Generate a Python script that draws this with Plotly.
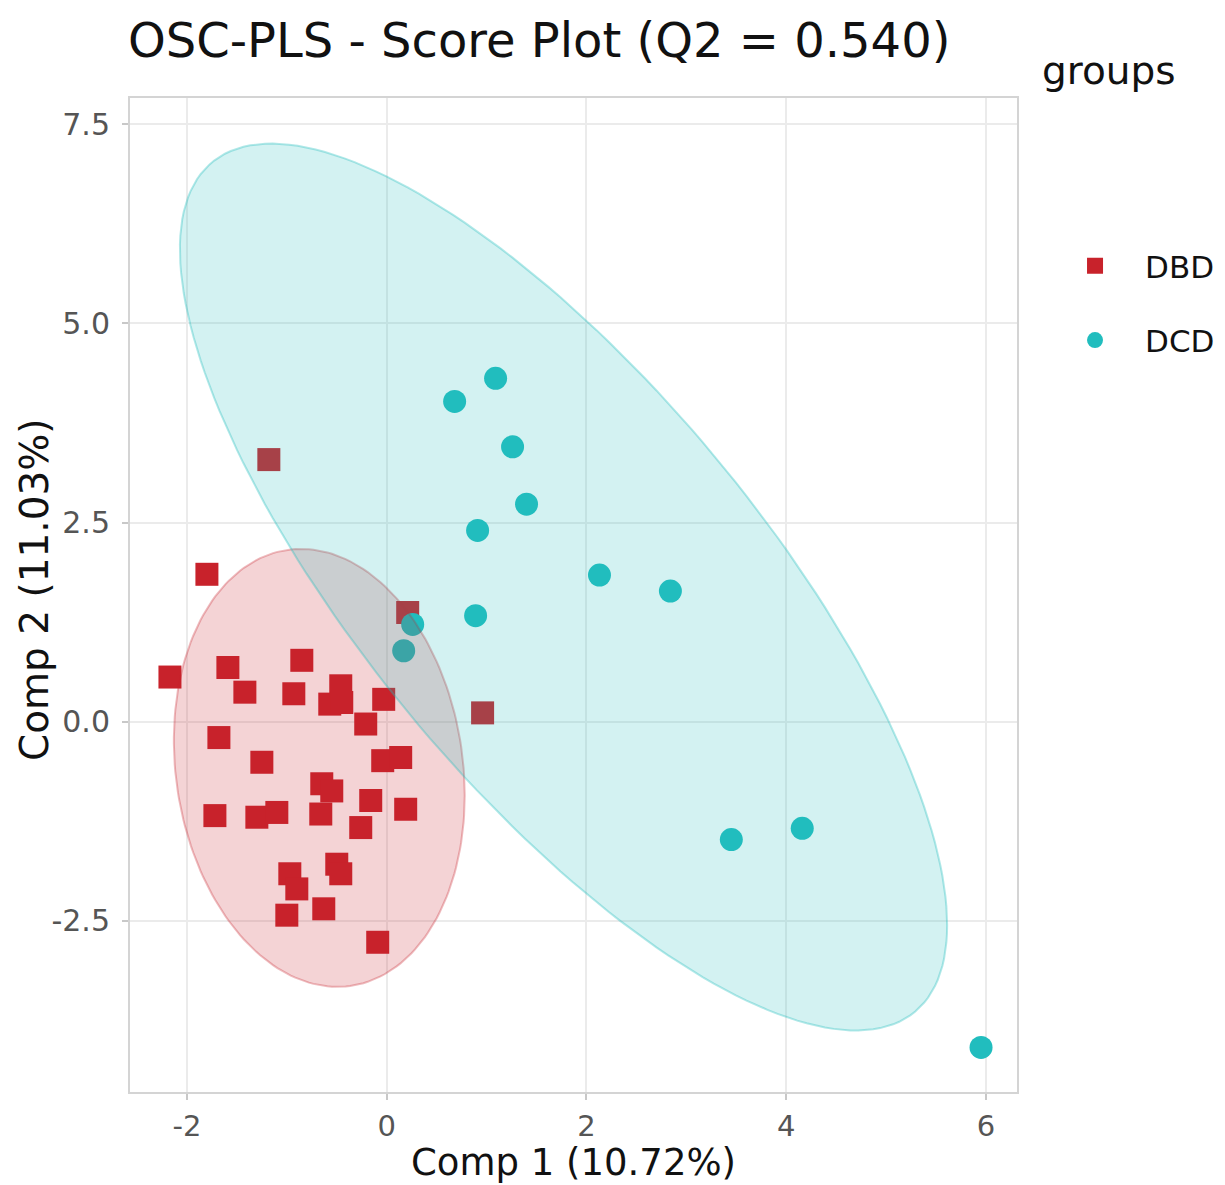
import numpy as np
import plotly.graph_objects as go

# ---- data ----
groups = ["DBD", "DCD"]

dbd_x = [-1.18, -1.80, 0.21, 0.96, -2.17, -1.59, -1.42, -0.85, -0.93, -0.46,
         -0.57, -0.45, -0.03, -0.21, -1.68, -1.25, -0.04, 0.14, -0.65, -0.55,
         -1.72, -1.30, -1.10, -0.66, -0.16, 0.19, -0.26, -0.50, -0.46, -0.97,
         -0.90, -1.00, -0.63, -0.09]
dbd_y = [3.29, 1.85, 1.37, 0.11, 0.56, 0.68, 0.37, 0.77, 0.35, 0.45,
         0.22, 0.24, 0.28, -0.03, -0.20, -0.51, -0.49, -0.45, -0.78, -0.87,
         -1.18, -1.20, -1.14, -1.16, -0.99, -1.10, -1.33, -1.79, -1.91, -1.91,
         -2.10, -2.43, -2.35, -2.77]

dcd_x = [1.09, 0.68, 1.26, 1.40, 0.91, 2.13, 2.84, 0.89, 0.26, 0.17, 3.45, 4.16, 5.95]
dcd_y = [4.31, 4.02, 3.45, 2.73, 2.40, 1.84, 1.64, 1.33, 1.22, 0.89, -1.48, -1.34, -4.09]

# confidence ellipse parameters: centre and covariance-like shape matrix
dbd_center = [-0.675, -0.58]
dbd_shape = [[2.12, -0.50], [-0.50, 7.56]]
dcd_center = [1.77, 1.69]
dcd_shape = [[14.75, -16.3], [-16.3, 31.0]]

x_ticks = [-2, 0, 2, 4, 6]
x_tick_labels = ["-2", "0", "2", "4", "6"]
y_ticks = [-2.5, 0.0, 2.5, 5.0, 7.5]
y_tick_labels = ["-2.5", "0.0", "2.5", "5.0", "7.5"]

title_text = "OSC-PLS - Score Plot (Q2 = 0.540)"
x_title = "Comp 1 (10.72%)"
y_title = "Comp 2 (11.03%)"
legend_title = "groups"

colors = {"DBD": "#C8222B", "DCD": "#21BDBE"}
fills = {"DBD": "rgba(200,34,43,0.20)", "DCD": "rgba(33,189,190,0.20)"}
edges = {"DBD": "rgba(200,34,43,0.30)", "DCD": "rgba(33,189,190,0.35)"}

FONT = "DejaVu Sans"
W, H = 1225, 1185
ML, MR, MT, MB = 130, 208, 98, 93
PW, PH = W - ML - MR, H - MT - MB


def ellipse(center, shape, n=200):
    t = np.linspace(0, 2 * np.pi, n)
    L = np.linalg.cholesky(np.array(shape))
    pts = L @ np.vstack([np.cos(t), np.sin(t)])
    return center[0] + pts[0], center[1] + pts[1]


fig = go.Figure()

fig.add_trace(go.Scatter(
    x=dbd_x, y=dbd_y, mode="markers", name="DBD", legendgroup="DBD",
    marker=dict(symbol="square", size=23, color=colors["DBD"]),
))
fig.add_trace(go.Scatter(
    x=dcd_x, y=dcd_y, mode="markers", name="DCD", legendgroup="DCD",
    marker=dict(symbol="circle", size=23, color=colors["DCD"]),
))

for g, c, s in [("DBD", dbd_center, dbd_shape), ("DCD", dcd_center, dcd_shape)]:
    ex, ey = ellipse(c, s)
    fig.add_trace(go.Scatter(
        x=ex, y=ey, mode="lines", fill="toself", fillcolor=fills[g],
        line=dict(color=edges[g], width=2), showlegend=False, hoverinfo="skip",
    ))

axis_common = dict(
    showgrid=True, gridcolor="#ebebeb", gridwidth=1.5,
    zeroline=False, showline=True, linecolor="#d4d4d4", linewidth=2, mirror=True,
    ticks="outside", ticklen=6, tickcolor="#c8c8c8", tickwidth=1.5,
    automargin=False,
)

fig.update_layout(
    width=W, height=H,
    margin=dict(l=ML, r=MR, t=MT, b=MB, autoexpand=False),
    paper_bgcolor="white", plot_bgcolor="white",
    title=dict(text=title_text,
               font=dict(family=FONT, size=48, color="#111111"),
               x=128 / W, xanchor="left", xref="container",
               y=1 - 40 / H, yanchor="middle", yref="container"),
    xaxis=dict(range=[-2.57, 6.31], tickvals=x_ticks, ticktext=x_tick_labels,
               ticklabelstandoff=1,
               tickfont=dict(family=FONT, size=29, color="#555555"),
               **axis_common),
    yaxis=dict(range=[-4.65, 7.83], tickvals=y_ticks, ticktext=y_tick_labels,
               ticklabelstandoff=6,
               tickfont=dict(family=FONT, size=30, color="#555555"),
               **axis_common),
    showlegend=True,
    legend=dict(x=1.0316, xanchor="left", y=0.858, yanchor="top",
                font=dict(family=FONT, size=31, color="#111111"),
                tracegroupgap=31, itemwidth=90, bgcolor="rgba(0,0,0,0)"),
    annotations=[
        dict(text=legend_title, xref="paper", yref="paper",
             x=1.026, xanchor="left", y=1.0 + 28 / PH, yanchor="middle",
             showarrow=False, font=dict(family=FONT, size=39, color="#111111")),
        dict(text=x_title, xref="paper", yref="paper",
             x=0.5, xanchor="center", y=-MB / PH, yanchor="bottom",
             borderpad=0, showarrow=False,
             font=dict(family=FONT, size=37, color="#111111")),
        dict(text=y_title, xref="paper", yref="paper", textangle=-90,
             x=(34 - ML) / PW, xanchor="center", y=(MT + PH - 590) / PH,
             yanchor="middle", showarrow=False,
             font=dict(family=FONT, size=39, color="#111111")),
    ],
)

fig.write_html("out.html")
